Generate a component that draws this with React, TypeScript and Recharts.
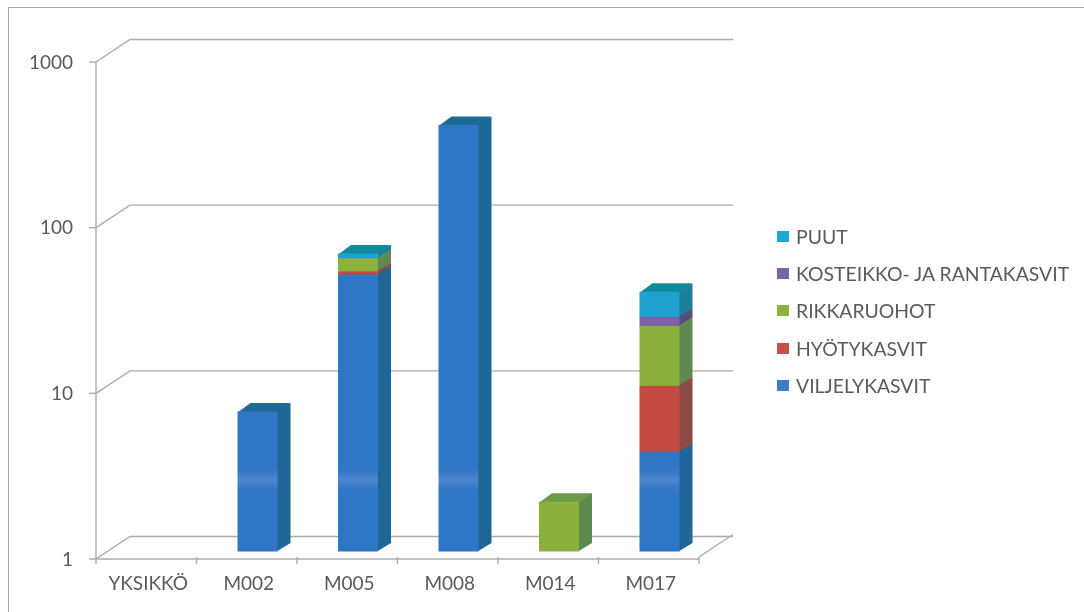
import { BarChart, Bar, XAxis, YAxis, CartesianGrid, Legend } from "recharts";

const categories = ["YKSIKKÖ", "M002", "M005", "M008", "M014", "M017"];
const viljelykasvit = [0, 7, 47, 376, 0, 4];
const hyotykasvit = [0, 0, 2, 0, 0, 6];
const rikkaruohot = [0, 0, 10, 0, 2, 13];
const kosteikko = [0, 0, 0, 0, 0, 3];
const puut = [0, 0, 4, 0, 0, 11];
const yTicks = [1, 10, 100, 1000];

const series = [
  { key: "VILJELYKASVIT", values: viljelykasvit, front: "#2e76c6", side: "#1f6796", top: "#1f6a94", swatch: "#3c7cc8" },
  { key: "HYÖTYKASVIT", values: hyotykasvit, front: "#c24a40", side: "#8e4a46", top: "#8e4a46", swatch: "#c6504a" },
  { key: "RIKKARUOHOT", values: rikkaruohot, front: "#8bb03c", side: "#5e8a52", top: "#6a9a4a", swatch: "#8fb23e" },
  { key: "KOSTEIKKO- JA RANTAKASVIT", values: kosteikko, front: "#7d62a8", side: "#5a4c7c", top: "#5a4c7c", swatch: "#7c63a6" },
  { key: "PUUT", values: puut, front: "#1fa2cf", side: "#1c7f9b", top: "#0f8a9c", swatch: "#1ea7d6" },
];

// log axis can't stack from zero, so each segment is a [from, to] range
const tableData = categories.map((name, i) => {
  const row: Record<string, any> = { name };
  let sum = 0;
  series.forEach((s) => {
    const v = s.values[i];
    const base = sum === 0 ? 1 : sum;
    sum += v;
    row[s.key] = v > 0 ? [base, sum] : null;
  });
  return row;
});

const FONT = "Lato, 'Open Sans', sans-serif";
const TEXT = "#565b5c";
const GRID = "#a9adad";
const BAR_W = 40;
// projection of the fake 3D
const WALL_DX = 34;
const WALL_DY = -22.5;
const BAR_DX = 11;
const BAR_DY = -7.5;
const SIDE_DX = 13;
const SIDE_DY = -8.5;

function box(s: (typeof series)[number]) {
  return (props: any) => {
    const { x, y, width, height } = props;
    if (!height || height <= 0 || x == null) return <g />;
    const l = x + BAR_DX;
    const r = l + width;
    const t = y + BAR_DY;
    const b = t + height;
    return (
      <g>
        <polygon
          points={`${r - 1},${t} ${r + SIDE_DX},${t + SIDE_DY} ${r + SIDE_DX},${b + SIDE_DY} ${r - 1},${b}`}
          fill={s.side}
        />
        <polygon
          points={`${l},${t + 1} ${l + SIDE_DX},${t + SIDE_DY} ${r + SIDE_DX},${t + SIDE_DY} ${r},${t + 1}`}
          fill={s.top}
        />
        <rect
          x={l}
          y={t}
          width={width}
          height={height}
          fill={s.key === "VILJELYKASVIT" ? "url(#scanBand)" : s.front}
        />
      </g>
    );
  };
}

function WallLine(props: any) {
  const { x1, x2, y1 } = props;
  return (
    <polyline
      points={`${x1},${y1} ${x1 + WALL_DX},${y1 + WALL_DY} ${x2 + WALL_DX},${y1 + WALL_DY}`}
      fill="none"
      stroke={GRID}
      strokeWidth={1.4}
    />
  );
}

function CategoryTick(props: any) {
  const { x, y, payload, index } = props;
  const band = 100.5;
  const left = x - band / 2;
  return (
    <g>
      <line x1={left} x2={left} y1={y - 8} y2={y - 1} stroke={GRID} strokeWidth={1.4} />
      {index === categories.length - 1 && (
        <>
          <line x1={left + band} x2={left + band} y1={y - 8} y2={y - 1} stroke={GRID} strokeWidth={1.4} />
          <line
            x1={left + band}
            y1={y - 8}
            x2={left + band + WALL_DX}
            y2={y - 8 + WALL_DY}
            stroke={GRID}
            strokeWidth={1.4}
          />
        </>
      )}
      <text x={x + 2} y={y + 25} textAnchor="middle" fill={TEXT} fontSize={19} fontFamily={FONT}>
        {payload.value}
      </text>
    </g>
  );
}

function LegendBox() {
  const items = [...series].reverse();
  return (
    <div>
      {items.map((s) => (
        <div key={s.key} style={{ height: 37.2, display: "flex", alignItems: "center", whiteSpace: "nowrap" }}>
          <span style={{ width: 12, height: 11, background: s.swatch, marginRight: 7 }} />
          <span style={{ color: TEXT, fontSize: 19.4, fontFamily: FONT }}>{s.key}</span>
        </div>
      ))}
    </div>
  );
}

export default function App() {
  return (
    <div style={{ position: "absolute", left: 0, top: 0, width: 1084, height: 612, background: "#fff", overflow: "hidden", filter: "blur(0.6px)" }}>
      <div style={{ position: "absolute", left: 8, top: 7, width: 1076, height: 605, borderLeft: "1.5px solid #a3a7a7", borderTop: "1.5px solid #a3a7a7" }} />
      <BarChart
        width={1084}
        height={612}
        data={tableData}
        barSize={BAR_W}
        barGap={-BAR_W}
        margin={{ top: 62, left: 16, right: 385, bottom: 23 }}
      >
        <defs>
          <linearGradient id="scanBand" gradientUnits="userSpaceOnUse" x1="0" x2="0" y1="470" y2="490">
            <stop offset="0" stopColor="#2e76c6" />
            <stop offset="0.5" stopColor="#4f86cc" />
            <stop offset="1" stopColor="#2e76c6" />
          </linearGradient>
        </defs>
        <CartesianGrid vertical={false} horizontal={(p: any) => <WallLine {...p} />} />
        <XAxis
          dataKey="name"
          height={30}
          interval={0}
          axisLine={{ stroke: GRID, strokeWidth: 1.4 }}
          tickLine={false}
          tick={(p: any) => <CategoryTick {...p} />}
          tickMargin={0}
        />
        <YAxis
          scale="log"
          domain={[1, 1000]}
          ticks={yTicks}
          allowDataOverflow
          width={80}
          axisLine={{ stroke: GRID, strokeWidth: 1.4 }}
          tickLine={{ stroke: GRID, strokeWidth: 1.4 }}
          tickSize={7}
          tick={{ fill: TEXT, fontSize: 19, fontFamily: FONT }}
          tickMargin={16}
        />
        {series.map((s) => (
          <Bar key={s.key} dataKey={s.key} fill={s.front} isAnimationActive={false} shape={box(s)} />
        ))}
        <Legend
          layout="vertical"
          align="center"
          verticalAlign="middle"
          content={<LegendBox />}
          wrapperStyle={{ left: 777, top: 218, width: 300 }}
        />
      </BarChart>
    </div>
  );
}
